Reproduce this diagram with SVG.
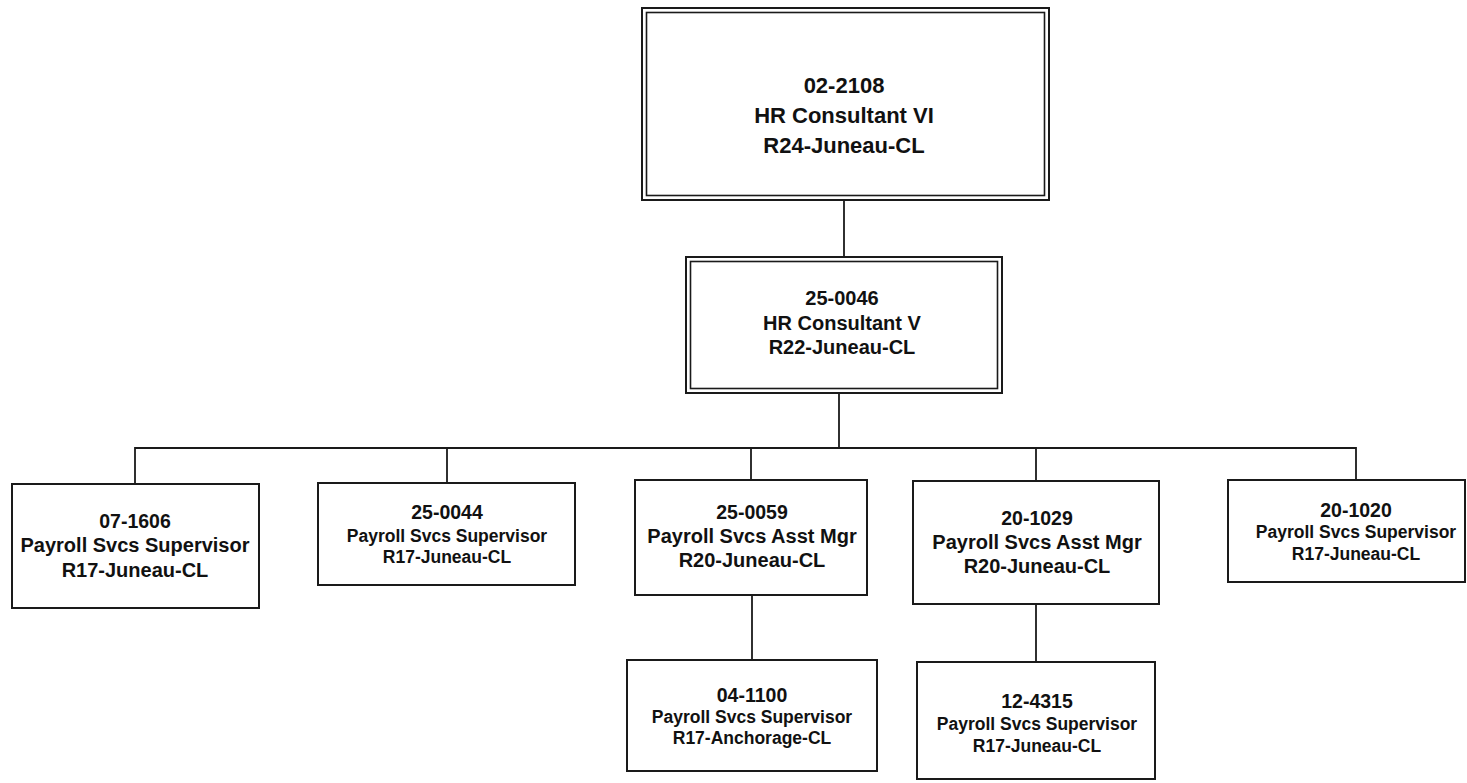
<svg xmlns="http://www.w3.org/2000/svg" width="1467" height="783" viewBox="0 0 1467 783">
<style>
.box{fill:#fff;stroke:#1a1a1a;stroke-width:2}
.inner{fill:none;stroke:#1a1a1a;stroke-width:1.6}
.ln{fill:none;stroke:#1a1a1a;stroke-width:1.8}
text{font-family:"Liberation Sans",Arial,sans-serif;font-weight:bold;fill:#111;text-anchor:middle}
.t1{font-size:22px}
.t2{font-size:20px}
.tm{font-size:20px}
.ts{font-size:17.5px}
.tn{font-size:19.5px}
</style>
<rect width="1467" height="783" fill="#fff"/>
<g id="connectors">
<path class="ln" d="M844 200 V257"/>
<path class="ln" d="M839 393 V448"/>
<path class="ln" d="M135 484 V448 H1356 V480"/>
<path class="ln" d="M447 448 V483"/>
<path class="ln" d="M751 448 V480"/>
<path class="ln" d="M1036 448 V481"/>
<path class="ln" d="M752 595 V660"/>
<path class="ln" d="M1036 604 V662"/>
</g>
<g id="n-02-2108">
<rect class="box" x="642" y="8" width="407" height="192"/>
<rect class="inner" x="646.5" y="12.5" width="398" height="183"/>
<text class="t1" x="844" y="93">02-2108</text>
<text class="t1" x="844" y="123">HR Consultant VI</text>
<text class="t1" x="844" y="153">R24-Juneau-CL</text>
</g>
<g id="n-25-0046">
<rect class="box" x="686" y="257" width="316" height="136"/>
<rect class="inner" x="690.5" y="261.5" width="307" height="127"/>
<text class="t2" x="842" y="305">25-0046</text>
<text class="t2" x="842" y="330">HR Consultant V</text>
<text class="t2" x="842" y="354">R22-Juneau-CL</text>
</g>
<g id="n-07-1606">
<rect class="box" x="12" y="484" width="247" height="124"/>
<text class="tn" x="135" y="528">07-1606</text>
<text class="tm" x="135" y="552">Payroll Svcs Supervisor</text>
<text class="tm" x="135" y="577">R17-Juneau-CL</text>
</g>
<g id="n-25-0044">
<rect class="box" x="318" y="483" width="257" height="102"/>
<text class="tn" x="447" y="519">25-0044</text>
<text class="ts" x="447" y="542">Payroll Svcs Supervisor</text>
<text class="ts" x="447" y="563">R17-Juneau-CL</text>
</g>
<g id="n-25-0059">
<rect class="box" x="635" y="480" width="232" height="115"/>
<text class="tn" x="752" y="519">25-0059</text>
<text class="tm" x="752" y="543">Payroll Svcs Asst Mgr</text>
<text class="tm" x="752" y="567">R20-Juneau-CL</text>
</g>
<g id="n-20-1029">
<rect class="box" x="913" y="481" width="246" height="123"/>
<text class="tn" x="1037" y="525">20-1029</text>
<text class="tm" x="1037" y="549">Payroll Svcs Asst Mgr</text>
<text class="tm" x="1037" y="573">R20-Juneau-CL</text>
</g>
<g id="n-20-1020">
<rect class="box" x="1228" y="480" width="237" height="102"/>
<text class="tn" x="1356" y="517">20-1020</text>
<text class="ts" x="1356" y="538">Payroll Svcs Supervisor</text>
<text class="ts" x="1356" y="560">R17-Juneau-CL</text>
</g>
<g id="n-04-1100">
<rect class="box" x="627" y="660" width="250" height="111"/>
<text class="tn" x="752" y="702">04-1100</text>
<text class="ts" x="752" y="723">Payroll Svcs Supervisor</text>
<text class="ts" x="752" y="744">R17-Anchorage-CL</text>
</g>
<g id="n-12-4315">
<rect class="box" x="917" y="662" width="238" height="117"/>
<text class="tn" x="1037" y="708">12-4315</text>
<text class="ts" x="1037" y="730">Payroll Svcs Supervisor</text>
<text class="ts" x="1037" y="752">R17-Juneau-CL</text>
</g>
</svg>
